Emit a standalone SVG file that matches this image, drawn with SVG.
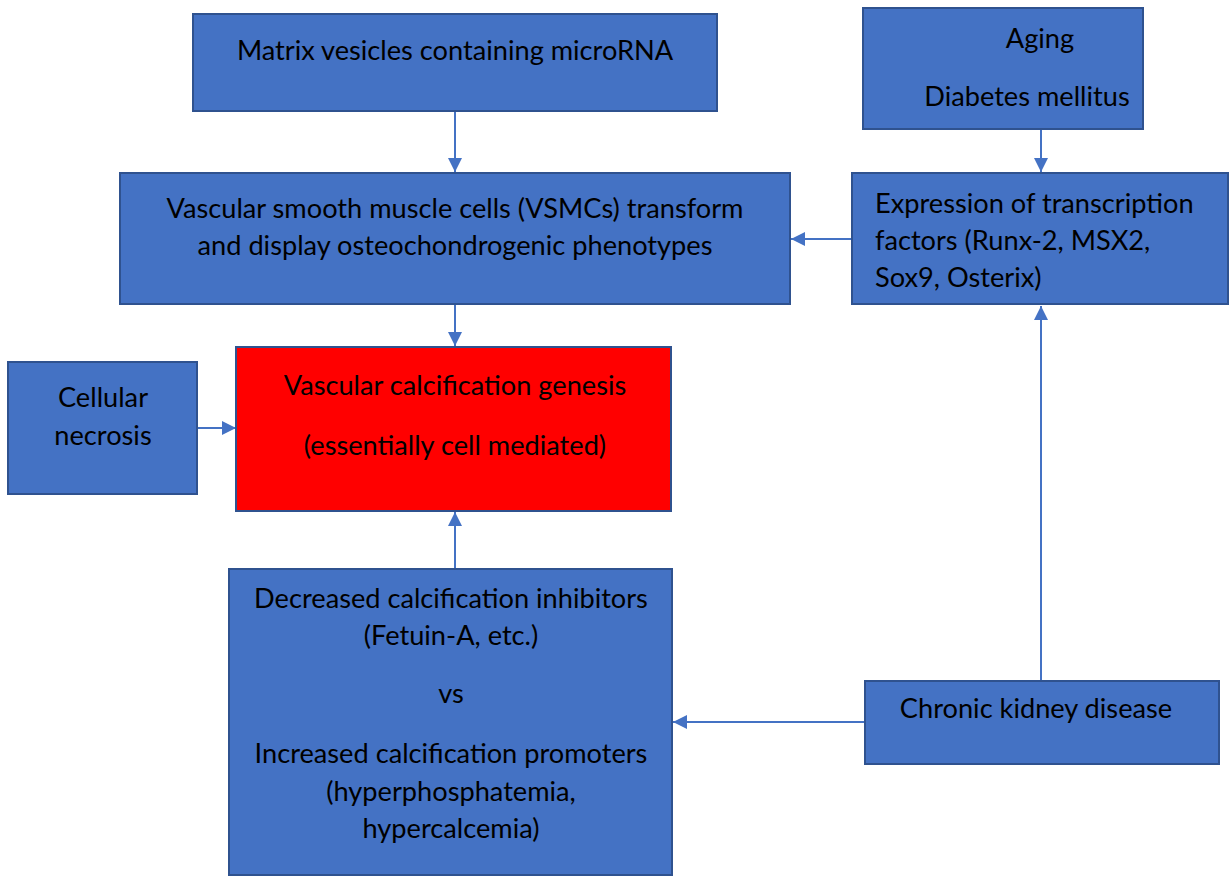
<svg xmlns="http://www.w3.org/2000/svg" width="1230" height="876" viewBox="0 0 1230 876">
<style>
.box{fill:#4472C4;stroke:#2F528F;stroke-width:2}
.red{fill:#FF0000;stroke:#2F528F;stroke-width:2}
text{font-family:Lato,"Liberation Sans",sans-serif;font-size:27.2px;fill:#000}
.c{text-anchor:middle}
.conn line{stroke:#4472C4;stroke-width:2}
</style>
<defs>
<marker id="ah" viewBox="0 0 10 10" refX="10" refY="5" markerWidth="14" markerHeight="14" markerUnits="userSpaceOnUse" orient="auto">
<path d="M0,0 L10,5 L0,10 z" fill="#4472C4"/>
</marker>
</defs>
<rect width="1230" height="876" fill="#fff"/>
<g class="conn">
<line x1="455" y1="111" x2="455" y2="172" marker-end="url(#ah)"/>
<line x1="1041" y1="129" x2="1041" y2="172" marker-end="url(#ah)"/>
<line x1="852" y1="239" x2="791" y2="239" marker-end="url(#ah)"/>
<line x1="455" y1="304" x2="455" y2="346" marker-end="url(#ah)"/>
<line x1="197" y1="428" x2="236" y2="428" marker-end="url(#ah)"/>
<line x1="455" y1="569" x2="455" y2="512" marker-end="url(#ah)"/>
<line x1="865" y1="722" x2="673" y2="722" marker-end="url(#ah)"/>
<line x1="1041" y1="681" x2="1041" y2="306" marker-end="url(#ah)"/>
</g>
<g id="matrix">
<rect class="box" x="193" y="14" width="524" height="97"/>
<text class="c" x="455" y="60">Matrix vesicles containing microRNA</text>
</g>
<g id="aging">
<rect class="box" x="863" y="8" width="280" height="121"/>
<text class="c" x="1040" y="48">Aging</text>
<text class="c" x="1027" y="106">Diabetes mellitus</text>
</g>
<g id="vsmc">
<rect class="box" x="120" y="173" width="670" height="131"/>
<text class="c" x="455" y="218">Vascular smooth muscle cells (VSMCs) transform</text>
<text class="c" x="455" y="255">and display osteochondrogenic phenotypes</text>
</g>
<g id="expression">
<rect class="box" x="852" y="173" width="376" height="131"/>
<text x="875" y="213">Expression of transcription</text>
<text x="875" y="250">factors (Runx-2, MSX2,</text>
<text x="875" y="287">Sox9, Osterix)</text>
</g>
<g id="necrosis">
<rect class="box" x="8" y="362" width="189" height="132"/>
<text class="c" x="103" y="407">Cellular</text>
<text class="c" x="103" y="445">necrosis</text>
</g>
<g id="genesis">
<rect class="red" x="236" y="347" width="435" height="164"/>
<text class="c" x="455" y="395">Vascular calcification genesis</text>
<text class="c" x="455" y="455">(essentially cell mediated)</text>
</g>
<g id="balance">
<rect class="box" x="229" y="569" width="443" height="306"/>
<text class="c" x="451" y="608">Decreased calcification inhibitors</text>
<text class="c" x="451" y="645">(Fetuin-A, etc.)</text>
<text class="c" x="451" y="703">vs</text>
<text class="c" x="451" y="763">Increased calcification promoters</text>
<text class="c" x="451" y="801">(hyperphosphatemia,</text>
<text class="c" x="451" y="838">hypercalcemia)</text>
</g>
<g id="ckd">
<rect class="box" x="865" y="681" width="354" height="83"/>
<text class="c" x="1036" y="718">Chronic kidney disease</text>
</g>
</svg>
